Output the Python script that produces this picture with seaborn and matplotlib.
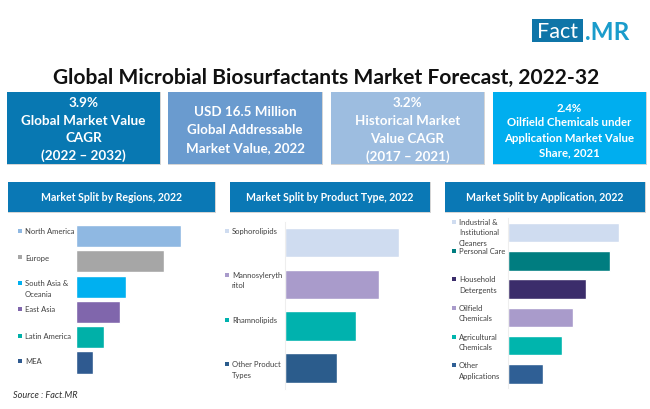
import matplotlib
matplotlib.use("Agg")
import matplotlib.pyplot as plt
from matplotlib.patches import Rectangle
import pandas as pd
import seaborn as sns

W, H = 650, 410

# values (no scale printed), in bar length units
region_labels = ["North America", "Europe", "South Asia &\nOceania", "East Asia", "Latin America", "MEA"]
region_values = [105, 88, 50, 44, 28, 17]
region_colors = ["#8FB8E2", "#A6A6A6", "#00B0F0", "#8066AC", "#00B0A8", "#2F5A90"]

product_labels = ["Sophorolipids", "Mannosyleryth\nritol", "Rhamnolipids", "Other Product\nTypes"]
product_values = [114, 94, 71, 52]
product_colors = ["#CFDCF0", "#A99BCB", "#00B2AE", "#2B5C8C"]

app_labels = ["Industrial &\nInstitutional\nCleaners", "Personal Care", "Household\nDetergents",
              "Oilfield\nChemicals", "Agricultural\nChemicals", "Other\nApplications"]
app_values = [111, 102, 78, 65, 54, 35]
app_colors = ["#CFDCF0", "#007D80", "#3B2D6B", "#A99BCB", "#00B5AD", "#2F5F95"]

card_lines = [
    ["3.9%", "Global Market Value", "CAGR", "(2022 – 2032)"],
    ["USD 16.5 Million", "Global Addressable", "Market Value, 2022"],
    ["3.2%", "Historical Market", "Value CAGR", "(2017 – 2021)"],
    ["2.4%", "Oilfield Chemicals under", "Application Market Value", "Share, 2021"],
]
card_colors = ["#0878B2", "#6A9BCF", "#9DBDE0", "#00AEEF"]
header_titles = ["Market Split by Regions, 2022", "Market Split by Product Type, 2022", "Market Split by Application, 2022"]

sns.set_theme(style="white")
plt.rcParams["font.family"] = ["Lato", "DejaVu Sans"]

fig = plt.figure(figsize=(W / 100, H / 100), dpi=100)
fig.patch.set_facecolor("white")


def box(x0, y0, x1, y1, color, shadow=True):
    # pixel rectangle, y counted from the top like the reference
    if shadow:
        fig.add_artist(Rectangle((x0 / W, 1 - (y1 + 1) / H), (x1 - x0 + 1) / W, (y1 - y0 + 1) / H,
                                 transform=fig.transFigure, color="#D5D5D5", lw=0))
    fig.add_artist(Rectangle((x0 / W, 1 - y1 / H), (x1 - x0) / W, (y1 - y0) / H,
                             transform=fig.transFigure, color=color, lw=0))


def label(x, y, s, **kw):
    fig.text(x / W, 1 - y / H, s, **kw)


def panel(labels, values, colors, left, right, top, bottom, width, label_x, label_ys, axis_line=False):
    ax = fig.add_axes([left / W, 1 - bottom / H, (right - left) / W, (bottom - top) / H])
    df = pd.DataFrame({"label": labels, "value": values})
    sns.barplot(data=df, x="value", y="label", hue="label", palette=dict(zip(labels, colors)),
                order=labels, hue_order=labels, dodge=False, legend=False, width=width,
                saturation=1, ax=ax)
    ax.set_xlim(0, right - left)
    ax.set_xlabel("")
    ax.set_ylabel("")
    ax.set_xticks([])
    ax.set_yticks([])
    ax.patch.set_alpha(0)
    for name in ["top", "right", "bottom", "left"]:
        ax.spines[name].set_visible(False)
    if axis_line:
        ax.spines["left"].set_visible(True)
        ax.spines["left"].set_color("#EEEEEE")
        ax.spines["left"].set_linewidth(0.8)
    # category names sit left of the bars with a small colour square
    for name, color, y in zip(labels, colors, label_ys):
        box(label_x - 7, y - 2, label_x - 3, y + 2, color, shadow=False)
        for i, line in enumerate(name.split("\n")):
            label(label_x, y + i * 10.2, line, fontsize=5.5, color="#404040", ha="left", va="center")


# logo
box(532, 20, 583, 43, "#0F75A8", shadow=False)
label(557.5, 32, "Fact", fontsize=15.5, color="white", ha="center", va="center")
label(585, 32, ".MR", fontsize=17.5, color="#1A9CCB", ha="left", va="center", fontweight="bold")

label(326, 78, "Global Microbial Biosurfactants Market Forecast, 2022-32",
      fontsize=15.1, fontweight="bold", color="#111111", ha="center", va="center")

# top cards
card_x = [(7, 160), (168, 322), (331, 484), (493, 646)]
card_y0 = [103, 112, 103, 108]
card_step = [17.7, 18, 18, 15]
card_size = [9.7, 9.6, 9.6, 8.2]
for (x0, x1), lines, color, y0, step, size in zip(card_x, card_lines, card_colors, card_y0, card_step, card_size):
    box(x0, 93, x1, 165, color)
    for i, line in enumerate(lines):
        label((x0 + x1) / 2, y0 + i * step, line, fontsize=size, fontweight="bold", color="white",
              ha="center", va="center")

# panel headers
header_x = [(8, 215), (230, 430), (445, 645)]
for (x0, x1), title in zip(header_x, header_titles):
    box(x0, 183, x1, 213, "#0A78B5")
    label((x0 + x1) / 2, 198, title, fontsize=7.6, fontweight="bold", color="white", ha="center", va="center")

panel(region_labels, region_values, region_colors, 75.5, 216, 224.35, 376.15, 0.87, 25,
      [232, 258, 284, 310, 337, 362])
panel(product_labels, product_values, product_colors, 285, 430, 222.6, 390, 0.71, 232,
      [231.7, 275.5, 320.5, 365], axis_line=True)
panel(app_labels, app_values, app_colors, 507.5, 645, 219.35, 389.15, 0.69, 459,
      [222.7, 252, 280, 308.7, 337.5, 366], axis_line=True)

label(13, 396, "Source : Fact.MR", fontsize=6.6, fontstyle="italic", color="#303030", ha="left", va="center")

fig.savefig("out.png", dpi=100)
